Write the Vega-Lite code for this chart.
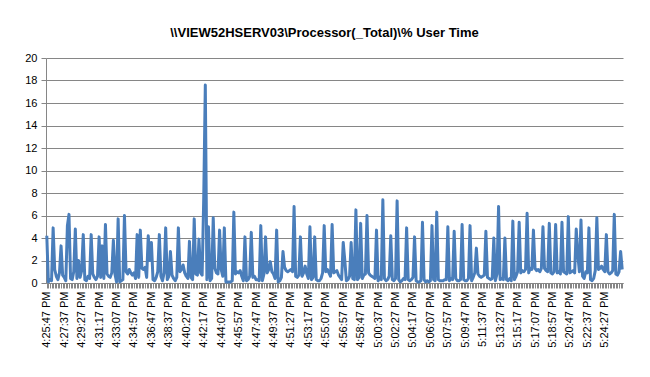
{
  "$schema": "https://vega.github.io/schema/vega-lite/v6.json",
  "width": 577,
  "height": 225,
  "autosize": "none",
  "padding": {"left": 46, "top": 58, "right": 27, "bottom": 94},
  "background": "white",
  "title": {
    "text": "\\\\VIEW52HSERV03\\Processor(_Total)\\% User Time",
    "font": "Liberation Sans",
    "fontSize": 13,
    "fontWeight": "bold",
    "color": "#000000",
    "offset": 12,
    "dx": -10
  },
  "config": {
    "view": {"stroke": null},
    "axis": {"labelFont": "Liberation Sans", "labelColor": "#000000", "domainColor": "#868686", "tickColor": "#868686", "gridColor": "#868686", "titleFont": "Liberation Sans"}
  },
  "data": {
    "values": [
      {"t":"4:25:47 PM","v":4.2},{"t":"4:25:57 PM","v":0.1},
      {"t":"4:26:07 PM","v":0.3},{"t":"4:26:17 PM","v":0.2},{"t":"4:26:27 PM","v":4.9},{"t":"4:26:37 PM","v":1.2},{"t":"4:26:47 PM","v":0.6},{"t":"4:26:57 PM","v":0.3},
      {"t":"4:27:07 PM","v":0.9},{"t":"4:27:17 PM","v":3.3},{"t":"4:27:27 PM","v":0.7},{"t":"4:27:37 PM","v":0.5},{"t":"4:27:47 PM","v":0.2},{"t":"4:27:57 PM","v":5.1},
      {"t":"4:28:07 PM","v":6.1},{"t":"4:28:17 PM","v":0.4},{"t":"4:28:27 PM","v":0.3},{"t":"4:28:37 PM","v":1.0},{"t":"4:28:47 PM","v":4.8},{"t":"4:28:57 PM","v":0.4},
      {"t":"4:29:07 PM","v":2.0},{"t":"4:29:17 PM","v":0.5},{"t":"4:29:27 PM","v":1.1},{"t":"4:29:37 PM","v":4.3},{"t":"4:29:47 PM","v":0.3},{"t":"4:29:57 PM","v":0.2},
      {"t":"4:30:07 PM","v":0.6},{"t":"4:30:17 PM","v":0.4},{"t":"4:30:27 PM","v":4.3},{"t":"4:30:37 PM","v":0.8},{"t":"4:30:47 PM","v":0.5},{"t":"4:30:57 PM","v":0.3},
      {"t":"4:31:07 PM","v":0.6},{"t":"4:31:17 PM","v":4.1},{"t":"4:31:27 PM","v":0.5},{"t":"4:31:37 PM","v":3.3},{"t":"4:31:47 PM","v":0.4},{"t":"4:31:57 PM","v":5.2},
      {"t":"4:32:07 PM","v":0.8},{"t":"4:32:17 PM","v":0.6},{"t":"4:32:27 PM","v":0.5},{"t":"4:32:37 PM","v":0.9},{"t":"4:32:47 PM","v":3.8},{"t":"4:32:57 PM","v":0.8},
      {"t":"4:33:07 PM","v":0.1},{"t":"4:33:17 PM","v":5.7},{"t":"4:33:27 PM","v":0.1},{"t":"4:33:37 PM","v":0.2},{"t":"4:33:47 PM","v":0.3},{"t":"4:33:57 PM","v":6.0},
      {"t":"4:34:07 PM","v":1.0},{"t":"4:34:17 PM","v":0.8},{"t":"4:34:27 PM","v":1.2},{"t":"4:34:37 PM","v":0.9},{"t":"4:34:47 PM","v":0.7},{"t":"4:34:57 PM","v":0.9},
      {"t":"4:35:07 PM","v":0.4},{"t":"4:35:17 PM","v":4.3},{"t":"4:35:27 PM","v":0.5},{"t":"4:35:37 PM","v":4.7},{"t":"4:35:47 PM","v":1.3},{"t":"4:35:57 PM","v":1.2},
      {"t":"4:36:07 PM","v":1.4},{"t":"4:36:17 PM","v":0.5},{"t":"4:36:27 PM","v":4.2},{"t":"4:36:37 PM","v":2.0},{"t":"4:36:47 PM","v":3.6},{"t":"4:36:57 PM","v":0.3},
      {"t":"4:37:07 PM","v":0.2},{"t":"4:37:17 PM","v":0.5},{"t":"4:37:27 PM","v":1.0},{"t":"4:37:37 PM","v":4.3},{"t":"4:37:47 PM","v":0.6},{"t":"4:37:57 PM","v":0.2},
      {"t":"4:38:07 PM","v":0.9},{"t":"4:38:17 PM","v":4.9},{"t":"4:38:27 PM","v":0.3},{"t":"4:38:37 PM","v":0.6},{"t":"4:38:47 PM","v":2.8},{"t":"4:38:57 PM","v":0.7},
      {"t":"4:39:07 PM","v":0.4},{"t":"4:39:17 PM","v":0.2},{"t":"4:39:27 PM","v":0.5},{"t":"4:39:37 PM","v":4.9},{"t":"4:39:47 PM","v":1.0},{"t":"4:39:57 PM","v":1.2},
      {"t":"4:40:07 PM","v":1.6},{"t":"4:40:17 PM","v":0.9},{"t":"4:40:27 PM","v":0.6},{"t":"4:40:37 PM","v":0.4},{"t":"4:40:47 PM","v":3.7},{"t":"4:40:57 PM","v":0.5},
      {"t":"4:41:07 PM","v":0.3},{"t":"4:41:17 PM","v":5.7},{"t":"4:41:27 PM","v":0.8},{"t":"4:41:37 PM","v":0.7},{"t":"4:41:47 PM","v":3.9},{"t":"4:41:57 PM","v":0.9},
      {"t":"4:42:07 PM","v":0.7},{"t":"4:42:17 PM","v":7.5},{"t":"4:42:27 PM","v":17.6},{"t":"4:42:37 PM","v":0.3},{"t":"4:42:47 PM","v":5.0},{"t":"4:42:57 PM","v":0.2},
      {"t":"4:43:07 PM","v":0.4},{"t":"4:43:17 PM","v":5.8},{"t":"4:43:27 PM","v":1.3},{"t":"4:43:37 PM","v":0.9},{"t":"4:43:47 PM","v":0.8},{"t":"4:43:57 PM","v":4.7},
      {"t":"4:44:07 PM","v":1.2},{"t":"4:44:17 PM","v":0.6},{"t":"4:44:27 PM","v":4.9},{"t":"4:44:37 PM","v":0.1},{"t":"4:44:47 PM","v":0.1},{"t":"4:44:57 PM","v":0.1},
      {"t":"4:45:07 PM","v":0.1},{"t":"4:45:17 PM","v":0.2},{"t":"4:45:27 PM","v":6.3},{"t":"4:45:37 PM","v":0.8},{"t":"4:45:47 PM","v":1.0},{"t":"4:45:57 PM","v":0.9},
      {"t":"4:46:07 PM","v":1.1},{"t":"4:46:17 PM","v":0.6},{"t":"4:46:27 PM","v":0.2},{"t":"4:46:37 PM","v":4.1},{"t":"4:46:47 PM","v":0.2},{"t":"4:46:57 PM","v":0.3},
      {"t":"4:47:07 PM","v":0.6},{"t":"4:47:17 PM","v":4.5},{"t":"4:47:27 PM","v":0.5},{"t":"4:47:37 PM","v":0.6},{"t":"4:47:47 PM","v":0.3},{"t":"4:47:57 PM","v":0.3},
      {"t":"4:48:07 PM","v":0.2},{"t":"4:48:17 PM","v":5.1},{"t":"4:48:27 PM","v":0.2},{"t":"4:48:37 PM","v":0.8},{"t":"4:48:47 PM","v":4.1},{"t":"4:48:57 PM","v":0.9},
      {"t":"4:49:07 PM","v":1.2},{"t":"4:49:17 PM","v":1.9},{"t":"4:49:27 PM","v":1.0},{"t":"4:49:37 PM","v":0.8},{"t":"4:49:47 PM","v":0.4},{"t":"4:49:57 PM","v":4.7},
      {"t":"4:50:07 PM","v":0.1},{"t":"4:50:17 PM","v":0.2},{"t":"4:50:27 PM","v":0.5},{"t":"4:50:37 PM","v":2.8},{"t":"4:50:47 PM","v":1.4},{"t":"4:50:57 PM","v":1.1},
      {"t":"4:51:07 PM","v":1.0},{"t":"4:51:17 PM","v":1.1},{"t":"4:51:27 PM","v":1.2},{"t":"4:51:37 PM","v":1.0},{"t":"4:51:47 PM","v":6.8},{"t":"4:51:57 PM","v":0.6},
      {"t":"4:52:07 PM","v":0.5},{"t":"4:52:17 PM","v":0.7},{"t":"4:52:27 PM","v":4.1},{"t":"4:52:37 PM","v":0.6},{"t":"4:52:47 PM","v":0.9},{"t":"4:52:57 PM","v":1.5},
      {"t":"4:53:07 PM","v":0.8},{"t":"4:53:17 PM","v":0.4},{"t":"4:53:27 PM","v":5.0},{"t":"4:53:37 PM","v":0.3},{"t":"4:53:47 PM","v":0.5},{"t":"4:53:57 PM","v":4.1},
      {"t":"4:54:07 PM","v":0.3},{"t":"4:54:17 PM","v":0.2},{"t":"4:54:27 PM","v":0.2},{"t":"4:54:37 PM","v":0.4},{"t":"4:54:47 PM","v":0.9},{"t":"4:54:57 PM","v":5.1},
      {"t":"4:55:07 PM","v":1.0},{"t":"4:55:17 PM","v":1.2},{"t":"4:55:27 PM","v":0.9},{"t":"4:55:37 PM","v":0.6},{"t":"4:55:47 PM","v":5.2},{"t":"4:55:57 PM","v":0.9},
      {"t":"4:56:07 PM","v":1.0},{"t":"4:56:17 PM","v":1.1},{"t":"4:56:27 PM","v":0.7},{"t":"4:56:37 PM","v":0.5},{"t":"4:56:47 PM","v":0.3},{"t":"4:56:57 PM","v":3.6},
      {"t":"4:57:07 PM","v":2.0},{"t":"4:57:17 PM","v":0.2},{"t":"4:57:27 PM","v":0.3},{"t":"4:57:37 PM","v":0.6},{"t":"4:57:47 PM","v":3.6},{"t":"4:57:57 PM","v":0.4},
      {"t":"4:58:07 PM","v":0.3},{"t":"4:58:17 PM","v":6.5},{"t":"4:58:27 PM","v":0.3},{"t":"4:58:37 PM","v":0.5},{"t":"4:58:47 PM","v":5.3},{"t":"4:58:57 PM","v":0.4},
      {"t":"4:59:07 PM","v":0.7},{"t":"4:59:17 PM","v":0.8},{"t":"4:59:27 PM","v":6.0},{"t":"4:59:37 PM","v":0.9},{"t":"4:59:47 PM","v":0.7},{"t":"4:59:57 PM","v":0.6},
      {"t":"5:00:07 PM","v":0.5},{"t":"5:00:17 PM","v":0.4},{"t":"5:00:27 PM","v":4.7},{"t":"5:00:37 PM","v":0.2},{"t":"5:00:47 PM","v":0.5},{"t":"5:00:57 PM","v":0.3},
      {"t":"5:01:07 PM","v":7.4},{"t":"5:01:17 PM","v":0.4},{"t":"5:01:27 PM","v":0.2},{"t":"5:01:37 PM","v":0.3},{"t":"5:01:47 PM","v":0.6},{"t":"5:01:57 PM","v":4.2},
      {"t":"5:02:07 PM","v":0.3},{"t":"5:02:17 PM","v":0.2},{"t":"5:02:27 PM","v":0.4},{"t":"5:02:37 PM","v":7.3},{"t":"5:02:47 PM","v":0.3},{"t":"5:02:57 PM","v":0.1},
      {"t":"5:03:07 PM","v":0.2},{"t":"5:03:17 PM","v":0.4},{"t":"5:03:27 PM","v":0.3},{"t":"5:03:37 PM","v":4.9},{"t":"5:03:47 PM","v":0.3},{"t":"5:03:57 PM","v":0.2},
      {"t":"5:04:07 PM","v":0.3},{"t":"5:04:17 PM","v":0.5},{"t":"5:04:27 PM","v":4.1},{"t":"5:04:37 PM","v":0.2},{"t":"5:04:47 PM","v":0.1},{"t":"5:04:57 PM","v":0.1},
      {"t":"5:05:07 PM","v":0.2},{"t":"5:05:17 PM","v":5.4},{"t":"5:05:27 PM","v":0.3},{"t":"5:05:37 PM","v":0.1},{"t":"5:05:47 PM","v":0.2},{"t":"5:05:57 PM","v":0.1},
      {"t":"5:06:07 PM","v":0.2},{"t":"5:06:17 PM","v":5.1},{"t":"5:06:27 PM","v":0.3},{"t":"5:06:37 PM","v":0.2},{"t":"5:06:47 PM","v":6.3},{"t":"5:06:57 PM","v":0.3},
      {"t":"5:07:07 PM","v":0.2},{"t":"5:07:17 PM","v":0.2},{"t":"5:07:27 PM","v":0.2},{"t":"5:07:37 PM","v":0.3},{"t":"5:07:47 PM","v":0.3},{"t":"5:07:57 PM","v":5.0},
      {"t":"5:08:07 PM","v":0.2},{"t":"5:08:17 PM","v":0.4},{"t":"5:08:27 PM","v":0.3},{"t":"5:08:37 PM","v":4.6},{"t":"5:08:47 PM","v":0.4},{"t":"5:08:57 PM","v":0.2},
      {"t":"5:09:07 PM","v":0.2},{"t":"5:09:17 PM","v":0.3},{"t":"5:09:27 PM","v":5.2},{"t":"5:09:37 PM","v":0.3},{"t":"5:09:47 PM","v":0.2},{"t":"5:09:57 PM","v":0.2},
      {"t":"5:10:07 PM","v":0.4},{"t":"5:10:17 PM","v":5.1},{"t":"5:10:27 PM","v":0.2},{"t":"5:10:37 PM","v":0.5},{"t":"5:10:47 PM","v":0.9},{"t":"5:10:57 PM","v":3.1},
      {"t":"5:11:07 PM","v":0.8},{"t":"5:11:17 PM","v":0.6},{"t":"5:11:27 PM","v":0.5},{"t":"5:11:37 PM","v":0.6},{"t":"5:11:47 PM","v":0.7},{"t":"5:11:57 PM","v":4.6},
      {"t":"5:12:07 PM","v":0.5},{"t":"5:12:17 PM","v":0.4},{"t":"5:12:27 PM","v":0.3},{"t":"5:12:37 PM","v":0.4},{"t":"5:12:47 PM","v":4.0},{"t":"5:12:57 PM","v":0.2},
      {"t":"5:13:07 PM","v":0.8},{"t":"5:13:17 PM","v":6.8},{"t":"5:13:27 PM","v":0.3},{"t":"5:13:37 PM","v":0.4},{"t":"5:13:47 PM","v":0.3},{"t":"5:13:57 PM","v":4.0},
      {"t":"5:14:07 PM","v":0.3},{"t":"5:14:17 PM","v":0.2},{"t":"5:14:27 PM","v":0.4},{"t":"5:14:37 PM","v":0.2},{"t":"5:14:47 PM","v":5.5},{"t":"5:14:57 PM","v":0.3},
      {"t":"5:15:07 PM","v":0.6},{"t":"5:15:17 PM","v":1.0},{"t":"5:15:27 PM","v":5.4},{"t":"5:15:37 PM","v":0.9},{"t":"5:15:47 PM","v":1.1},{"t":"5:15:57 PM","v":1.0},
      {"t":"5:16:07 PM","v":1.2},{"t":"5:16:17 PM","v":6.2},{"t":"5:16:27 PM","v":0.9},{"t":"5:16:37 PM","v":1.3},{"t":"5:16:47 PM","v":1.2},{"t":"5:16:57 PM","v":4.7},
      {"t":"5:17:07 PM","v":1.3},{"t":"5:17:17 PM","v":1.1},{"t":"5:17:27 PM","v":1.2},{"t":"5:17:37 PM","v":1.0},{"t":"5:17:47 PM","v":1.3},{"t":"5:17:57 PM","v":5.0},
      {"t":"5:18:07 PM","v":1.3},{"t":"5:18:17 PM","v":1.1},{"t":"5:18:27 PM","v":1.0},{"t":"5:18:37 PM","v":5.3},{"t":"5:18:47 PM","v":0.9},{"t":"5:18:57 PM","v":0.8},
      {"t":"5:19:07 PM","v":1.0},{"t":"5:19:17 PM","v":5.2},{"t":"5:19:27 PM","v":0.9},{"t":"5:19:37 PM","v":1.0},{"t":"5:19:47 PM","v":0.8},{"t":"5:19:57 PM","v":5.4},
      {"t":"5:20:07 PM","v":1.0},{"t":"5:20:17 PM","v":0.9},{"t":"5:20:27 PM","v":0.8},{"t":"5:20:37 PM","v":5.9},{"t":"5:20:47 PM","v":0.9},{"t":"5:20:57 PM","v":1.0},
      {"t":"5:21:07 PM","v":1.1},{"t":"5:21:17 PM","v":0.9},{"t":"5:21:27 PM","v":4.8},{"t":"5:21:37 PM","v":2.5},{"t":"5:21:47 PM","v":1.0},{"t":"5:21:57 PM","v":5.6},
      {"t":"5:22:07 PM","v":0.6},{"t":"5:22:17 PM","v":0.4},{"t":"5:22:27 PM","v":1.0},{"t":"5:22:37 PM","v":0.9},{"t":"5:22:47 PM","v":4.9},{"t":"5:22:57 PM","v":0.3},
      {"t":"5:23:07 PM","v":0.2},{"t":"5:23:17 PM","v":0.4},{"t":"5:23:27 PM","v":1.1},{"t":"5:23:37 PM","v":5.8},{"t":"5:23:47 PM","v":1.2},{"t":"5:23:57 PM","v":1.3},
      {"t":"5:24:07 PM","v":1.5},{"t":"5:24:17 PM","v":1.2},{"t":"5:24:27 PM","v":1.0},{"t":"5:24:37 PM","v":4.3},{"t":"5:24:47 PM","v":1.0},{"t":"5:24:57 PM","v":0.8},
      {"t":"5:25:07 PM","v":0.9},{"t":"5:25:17 PM","v":1.1},{"t":"5:25:27 PM","v":6.1},{"t":"5:25:37 PM","v":0.8},{"t":"5:25:47 PM","v":0.7},{"t":"5:25:57 PM","v":1.0},
      {"t":"5:26:07 PM","v":2.8},{"t":"5:26:17 PM","v":1.2}
    ]
  },
  "mark": {"type": "line", "color": "#4A7EBB", "strokeWidth": 3, "strokeJoin": "round"},
  "encoding": {
    "x": {
      "field": "t",
      "type": "ordinal",
      "sort": null,
      "scale": {"type": "point", "padding": 0.5},
      "axis": {
        "title": null,
        "labelAngle": -90,
        "labelFontSize": 11,
        "labelOverlap": false,
        "labelBound": false,
        "labelPadding": 3,
        "tickSize": 5,
        "tickWidth": 1,
        "domainWidth": 1,
        "grid": false,
        "labelExpr": "indexof(['4:25:47 PM','4:27:37 PM','4:29:27 PM','4:31:17 PM','4:33:07 PM','4:34:57 PM','4:36:47 PM','4:38:37 PM','4:40:27 PM','4:42:17 PM','4:44:07 PM','4:45:57 PM','4:47:47 PM','4:49:37 PM','4:51:27 PM','4:53:17 PM','4:55:07 PM','4:56:57 PM','4:58:47 PM','5:00:37 PM','5:02:27 PM','5:04:17 PM','5:06:07 PM','5:07:57 PM','5:09:47 PM','5:11:37 PM','5:13:27 PM','5:15:17 PM','5:17:07 PM','5:18:57 PM','5:20:47 PM','5:22:37 PM','5:24:27 PM'], datum.value) >= 0 ? datum.value : ''"
      }
    },
    "y": {
      "field": "v",
      "type": "quantitative",
      "scale": {"domain": [0, 20], "nice": false},
      "axis": {
        "title": null,
        "values": [0, 2, 4, 6, 8, 10, 12, 14, 16, 18, 20],
        "labelFontSize": 11,
        "labelPadding": 4,
        "tickSize": 5,
        "domainWidth": 1,
        "gridWidth": 1
      }
    }
  }
}
